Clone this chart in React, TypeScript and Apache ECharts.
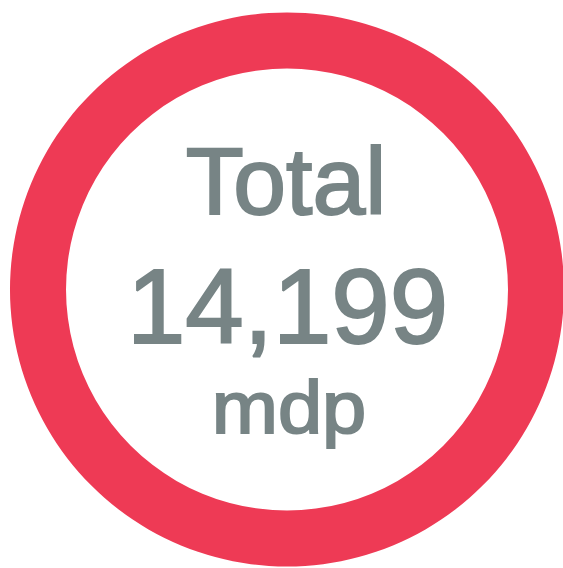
import React, { useEffect, useRef } from "react";
import * as echarts from "echarts";

const categories = ["Total"];
const values = [14199];
const centerLines = ["Total", "14,199", "mdp"];

export default function App() {
  const ref = useRef<HTMLDivElement>(null);
  useEffect(() => {
    document.body.style.margin = "0";
    const chart = echarts.init(ref.current!, null, { renderer: "svg" });
    const font = "'Liberation Sans', Arial, Helvetica, sans-serif";
    const textColor = "#778485";
    chart.setOption({
      animation: false,
      backgroundColor: "#ffffff",
      series: [
        {
          type: "pie",
          center: [287, 289.5],
          radius: [221, 277],
          silent: true,
          label: { show: false },
          labelLine: { show: false },
          itemStyle: { color: "#EE3A55" },
          data: categories.map((c, i) => ({ name: c, value: values[i] })),
        },
      ],
      graphic: [
        {
          type: "text",
          x: 286,
          y: 181,
          scaleX: 1.01,
          style: {
            text: centerLines[0],
            font: `94px ${font}`,
            fill: textColor,
            stroke: textColor,
            lineWidth: 2,
            align: "center",
            verticalAlign: "middle",
          },
        },
        {
          type: "text",
          x: 287.5,
          y: 306,
          style: {
            text: centerLines[1],
            font: `105px ${font}`,
            fill: textColor,
            stroke: textColor,
            lineWidth: 2,
            align: "center",
            verticalAlign: "middle",
          },
        },
        {
          type: "text",
          x: 289,
          y: 407,
          scaleX: 1.06,
          style: {
            text: centerLines[2],
            font: `75px ${font}`,
            fill: textColor,
            stroke: textColor,
            lineWidth: 2,
            align: "center",
            verticalAlign: "middle",
          },
        },
      ],
    });
    return () => chart.dispose();
  }, []);
  return (
    <div
      ref={ref}
      style={{ position: "fixed", left: 0, top: 0, width: 563, height: 568 }}
    />
  );
}
